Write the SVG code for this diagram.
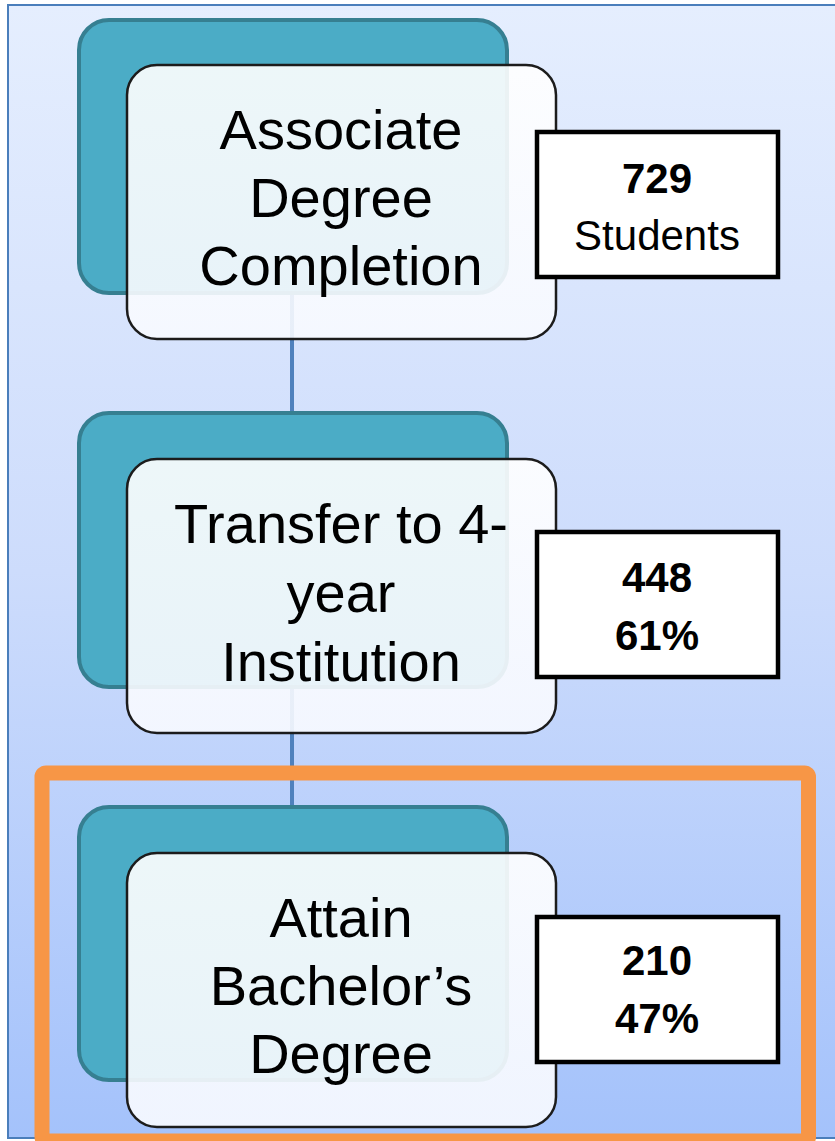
<svg xmlns="http://www.w3.org/2000/svg" width="835" height="1141" viewBox="0 0 835 1141">
  <defs>
    <linearGradient id="bg" x1="0" y1="0" x2="0" y2="1">
      <stop offset="0" stop-color="#e5eefe"/>
      <stop offset="0.5" stop-color="#cddcfc"/>
      <stop offset="1" stop-color="#a4c2fb"/>
    </linearGradient>
    <linearGradient id="card" x1="0" y1="0" x2="0" y2="1">
      <stop offset="0" stop-color="#ffffff"/>
      <stop offset="1" stop-color="#f8faff"/>
    </linearGradient>
  </defs>
  <style>
    .teal { fill: #4bacc6; stroke: #367f91; stroke-width: 4; }
    .card { fill: url(#card); fill-opacity: 0.9; stroke: #1c1c1c; stroke-width: 2.5; }
    .stat { fill: #ffffff; stroke: #000000; stroke-width: 4.5; }
    .label { font-family: "Liberation Sans", Arial, sans-serif; font-size: 56px; fill: #000; text-anchor: middle; }
    .num { font-family: "Liberation Sans", Arial, sans-serif; font-size: 42px; font-weight: bold; fill: #000; text-anchor: middle; }
    .sub { font-family: "Liberation Sans", Arial, sans-serif; font-size: 42px; fill: #000; text-anchor: middle; }
    .conn { stroke: #4f81bd; stroke-width: 4; fill: none; }
  </style>

  <rect x="8" y="5" width="840" height="1133" fill="url(#bg)" stroke="#4a7ebb" stroke-width="2"/>

  <g id="connectors">
    <line class="conn" x1="292" y1="293" x2="292" y2="413"/>
    <line class="conn" x1="292" y1="687" x2="292" y2="807"/>
  </g>

  <g id="node-associate">
    <rect class="teal" x="79" y="20" width="428" height="273" rx="30"/>
    <rect class="card" x="127" y="65" width="429" height="274" rx="30"/>
    <text class="label" x="341" y="149">Associate</text>
    <text class="label" x="341" y="217">Degree</text>
    <text class="label" x="341" y="285">Completion</text>
  </g>
  <g id="stat-associate">
    <rect class="stat" x="537" y="132" width="241" height="145"/>
    <text class="num" x="657" y="193">729</text>
    <text class="sub" x="657" y="250">Students</text>
  </g>

  <g id="node-transfer">
    <rect class="teal" x="79" y="413" width="428" height="274" rx="30"/>
    <rect class="card" x="127" y="459" width="429" height="274" rx="30"/>
    <text class="label" x="341" y="543">Transfer to 4-</text>
    <text class="label" x="341" y="612">year</text>
    <text class="label" x="341" y="681">Institution</text>
  </g>
  <g id="stat-transfer">
    <rect class="stat" x="537" y="532" width="241" height="145"/>
    <text class="num" x="657" y="592">448</text>
    <text class="num" x="657" y="650">61%</text>
  </g>

  <g id="node-bachelor">
    <rect class="teal" x="79" y="807" width="428" height="273" rx="30"/>
    <rect class="card" x="127" y="853" width="429" height="274" rx="30"/>
    <text class="label" x="341" y="937">Attain</text>
    <text class="label" x="341" y="1005">Bachelor’s</text>
    <text class="label" x="341" y="1073">Degree</text>
  </g>
  <g id="stat-bachelor">
    <rect class="stat" x="537" y="917" width="241" height="145"/>
    <text class="num" x="657" y="975">210</text>
    <text class="num" x="657" y="1033">47%</text>
  </g>

  <g id="highlight">
    <rect x="42" y="773" width="766.5" height="368" rx="4" fill="none" stroke="#f79646" stroke-width="15"/>
  </g>
</svg>
